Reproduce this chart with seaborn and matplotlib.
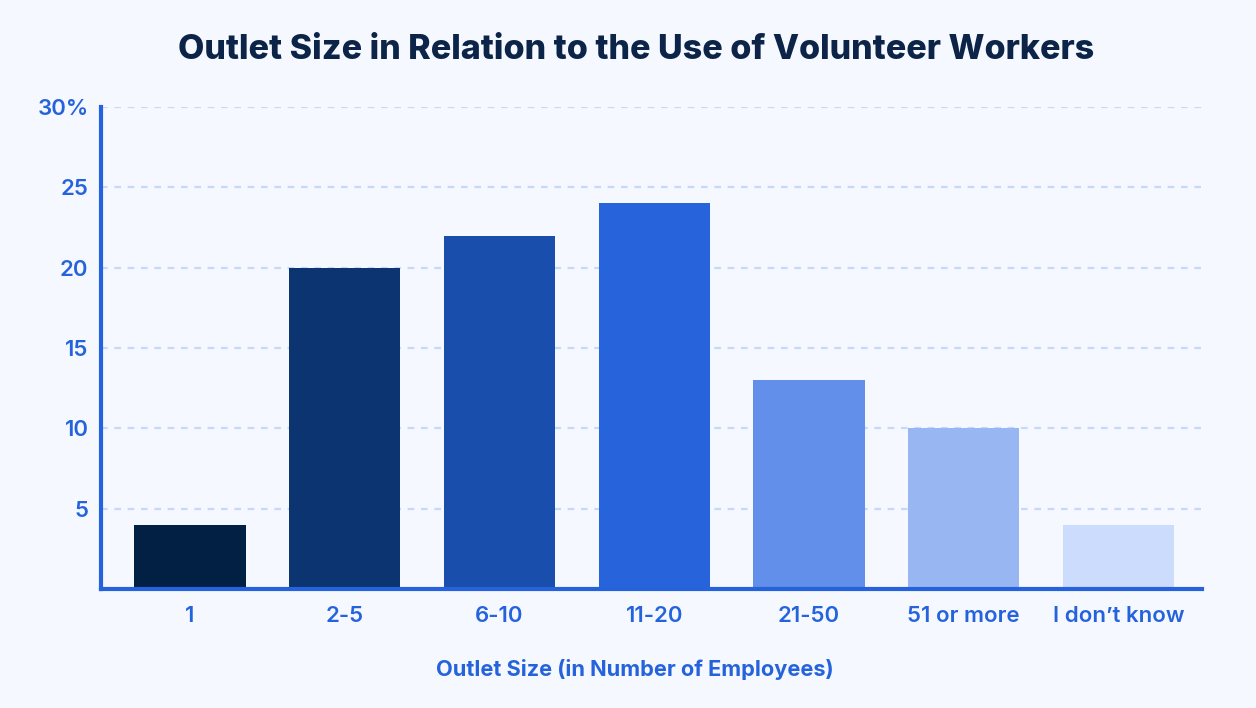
import matplotlib
matplotlib.use("Agg")
import matplotlib.pyplot as plt
import seaborn as sns
import pandas as pd

# Share of outlets using volunteer workers, by outlet size
categories = ["1", "2-5", "6-10", "11-20", "21-50", "51 or more", "I don\u2019t know"]
values = [4, 20, 22, 24, 13, 10, 4]
bar_colors = ["#012044", "#0c3471", "#1a4ead", "#2764dc", "#628fe9", "#98b6f2", "#cbdcfc"]
y_ticks = [5, 10, 15, 20, 25, 30]
y_tick_labels = ["5", "10", "15", "20", "25", "30%"]

BG = "#f5f8ff"
BLUE = "#2563dc"
NAVY = "#0b2447"
GRID = "#c6d9fb"

sns.set_theme(style="white")
plt.rcParams["font.family"] = ["Inter", "DejaVu Sans"]

df = pd.DataFrame({"size": categories, "share": values})

fig = plt.figure(figsize=(12.56, 7.08), dpi=100, facecolor=BG)
ax = fig.add_axes([101 / 1256, 1 - 589 / 708, (1202 - 101) / 1256, (589 - 107) / 708])
ax.set_facecolor(BG)

sns.barplot(data=df, x="size", y="share", hue="size", palette=bar_colors,
            width=0.72, saturation=1, legend=False, ax=ax, zorder=3,
            linewidth=0, edgecolor="none")

ax.set_xlim(-0.575, 6.54)
ax.set_ylim(0, 30)
ax.set_yticks(y_ticks)
ax.set_yticklabels(y_tick_labels)
ax.yaxis.grid(True, color=GRID, linestyle=(0, (3, 3)), linewidth=1.6, zorder=0)
ax.xaxis.grid(False)

for side in ["top", "right"]:
    ax.spines[side].set_visible(False)
for side in ["left", "bottom"]:
    ax.spines[side].set_color(BLUE)
    ax.spines[side].set_linewidth(3)
    ax.spines[side].set_zorder(4)

ax.tick_params(axis="both", length=0, labelcolor=BLUE, labelsize=16)
ax.tick_params(axis="x", pad=12.5)
ax.tick_params(axis="y", pad=9)
for lbl in ax.get_xticklabels() + ax.get_yticklabels():
    lbl.set_fontweight("semibold")

ax.set_xlabel("")
ax.set_ylabel("")

fig.text(635 / 1256, 1 - 670 / 708, "Outlet Size (in Number of Employees)",
         ha="center", va="center", color=BLUE, fontsize=15.7, fontweight="bold")
fig.text(636 / 1256, 1 - 50 / 708, "Outlet Size in Relation to the Use of Volunteer Workers",
         ha="center", va="center", color=NAVY, fontsize=24.5, fontweight="heavy")

fig.savefig("out.png", dpi=100, facecolor=BG)
